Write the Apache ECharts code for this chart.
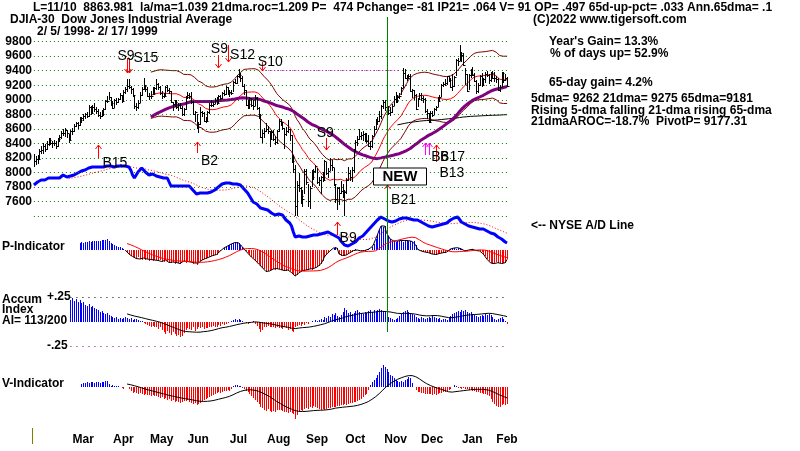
<!DOCTYPE html>
<html><head><meta charset="utf-8">
<script src="https://cdn.jsdelivr.net/npm/echarts@6/dist/echarts.min.js"></script>
<style>html,body{margin:0;padding:0;background:#fff}#c{width:800px;height:451px}</style>
</head><body><div id="c"></div>
<script>
// ---------- DATA (DJIA daily, 2/5/1998 - 2/17/1999) ----------
const startDate = '1998-02-05';
const holidays = ['1998-02-16','1998-04-10','1998-05-25','1998-07-03','1998-09-07','1998-11-26','1998-12-25','1999-01-01','1999-01-18','1999-02-15'];
const monthNames = ['Jan','Feb','Mar','Apr','May','Jun','Jul','Aug','Sep','Oct','Nov','Dec'];
const priceTicks = [7400,7600,7800,8000,8200,8400,8600,8800,9000,9200,9400,9600,9800];

const high = [
8250,8230,8240,8320,8360,8400,8390,8430,8470,8480,8440,8450,8440,8480,8510,8570,
8600,8610,8590,8530,8590,8610,8670,8700,8700,8760,8770,8800,8820,8830,8930,8910,8930,8960,8900,8880,8830,8860,
8890,9000,9050,9100,9040,8980,9010,9020,9030,9090,9070,9130,9170,9280,9290,9190,9160,9050,8960,8990,9110,
9170,9300,9200,9170,9090,9120,9170,9180,9280,9230,9190,9120,9090,9190,9200,9160,9120,8970,9000,8990,
8960,8960,8910,8890,9050,9100,9090,9100,8980,8850,8800,8690,8900,8850,8830,8760,8850,8960,9000,8970,9030,9040,
9060,9070,9100,9130,9190,9180,9140,9140,9260,9290,9340,9420,9370,9330,9220,9130,9000,9040,9030,8990,9060,9040,
8900,8800,8580,8610,8680,8640,8570,8590,8580,8500,8590,8730,8740,8700,8610,8620,8720,8600,8520,8240,8110,
7880,8000,7800,7760,8050,8050,7850,7820,8030,8050,8110,8070,7940,7950,8010,8170,8150,8060,8200,8170,8070,
7840,7800,7800,7880,7840,7760,7920,8080,8040,8080,8330,8450,8500,8600,8560,8570,8550,8540,8510,8430,8510,8640,
8730,8760,8850,8930,8990,8990,8940,8920,8900,8940,9050,9100,9060,9090,9180,9440,9420,9340,9360,9350,
9150,9130,9080,9030,9090,9090,9050,9020,8870,8820,8840,8850,8890,8920,9040,9070,9220,9240,9290,9330,9330,9300,
9350,9330,9560,9580,9750,9660,9640,9440,9360,9360,9420,9450,9370,9270,9230,9340,9370,9300,9380,
9400,9350,9380,9400,9380,9330,9300,9200,9380,9380,9360,9310];
const low = [
8080,8110,8120,8170,8250,8260,8280,8310,8360,8380,8340,8360,8330,8350,8420,8460,
8500,8490,8470,8400,8440,8520,8560,8620,8600,8640,8680,8710,8730,8750,8770,8790,8800,8830,8800,8760,8740,8760,
8780,8860,8950,8990,8920,8870,8890,8930,8950,9000,8950,8970,9080,9110,9150,9080,9040,8870,8850,8880,8960,
9050,9140,9100,9040,8990,9010,9060,9060,9140,9130,9070,9010,9020,9040,9100,9080,8950,8840,8900,8880,
8850,8870,8780,8780,8860,9010,9010,8940,8790,8700,8600,8540,8650,8770,8690,8680,8710,8800,8900,8900,8940,8930,
8950,9000,9010,9050,9070,9070,9040,9060,9100,9210,9220,9300,9250,9170,9060,8910,8880,8870,8900,8860,8920,8860,
8740,8470,8400,8480,8560,8530,8350,8460,8430,8380,8390,8560,8640,8580,8320,8500,8550,8440,8130,7990,7400,
7400,7740,7570,7530,7700,7830,7530,7500,7800,7900,7990,7840,7820,7700,7870,7900,7970,7920,8020,8020,7820,
7580,7480,7550,7700,7650,7400,7700,7890,7880,7870,7990,8290,8370,8450,8450,8440,8420,8410,8350,8310,8340,8500,
8590,8660,8700,8740,8880,8850,8820,8790,8780,8820,8920,8950,8960,9010,9060,9160,9280,9260,9290,9100,
9020,9000,8860,8900,8990,8980,8960,8820,8740,8680,8690,8760,8790,8840,8900,8970,9040,9180,9190,9200,9250,9160,
9120,9170,9320,9460,9530,9520,9460,9200,9100,9130,9300,9320,9240,9080,9090,9190,9180,9190,9230,
9310,9220,9250,9290,9250,9230,9120,9100,9170,9230,9260,9170];
const close = [
8154,8189,8180,8295,8314,8369,8323,8398,8451,8410,8413,8410,8370,8457,8490,8546,
8550,8584,8539,8444,8569,8567,8643,8675,8659,8719,8749,8775,8803,8776,8906,8816,8904,8872,8846,8796,8783,8799,
8868,8986,8983,9033,8956,8891,8994,8973,9006,9063,8977,9110,9141,9184,9176,9143,9064,8917,8898,8951,9063,
9147,9192,9147,9054,9055,9055,9091,9161,9211,9172,9096,9050,9054,9171,9132,9114,8963,8936,8970,8899,
8922,8891,8803,8870,9037,9069,9049,8971,8811,8834,8627,8665,8829,8813,8712,8711,8828,8935,8935,8944,8997,8952,
9048,9025,9091,9085,9175,9089,9105,9096,9245,9234,9328,9338,9295,9190,9128,8932,8938,9028,8934,8914,9026,8883,
8786,8487,8546,8577,8599,8574,8462,8552,8459,8425,8574,8714,8693,8611,8533,8566,8602,8523,8166,8052,7539,
7827,7783,7682,7640,8020,7865,7615,7795,7945,8025,8090,7873,7895,7933,7897,8154,8001,8028,8109,8080,7843,
7632,7784,7726,7742,7741,7732,7899,8001,7939,8036,8300,8416,8466,8506,8520,8534,8452,8432,8366,8371,8496,8592,
8706,8707,8783,8915,8975,8897,8864,8823,8829,8919,9011,8986,9042,9057,9159,9374,9302,9302,9333,9117,
9133,9064,8880,9016,9070,9027,9009,8841,8821,8695,8823,8790,8875,8903,8988,9044,9202,9217,9226,9320,9274,9181,
9184,9311,9544,9537,9643,9619,9474,9349,9120,9340,9355,9336,9264,9120,9203,9324,9200,9281,9359,
9345,9274,9366,9304,9304,9291,9133,9177,9363,9274,9298,9190];

// NYSE advance/decline line (relative units)
const adLine = [
65,67,68,70,70,71,70,71,72,71, 72,71,72,73,72,74,75,74,73,74,
74,74,75,76,77,78,79,80,80,81, 82,82,83,82,83,84,83,82,83,84,
84,85,84,84,83,83,84,83,84,83, 84,84,83,80,75,72,75,78,80,82,
80,78,76,75,76,76,75,74,74,73, 73,72,73,72,70,64,63,64,65,64,
63,64,63,64,66,64,62,60,58,56, 55,57,58,57,57,57,58,58,59,60,
62,63,64,66,67,67,67,67,66,66, 67,66,66,65,63,61,59,57,54,51,
48,47,46,44,42,42,41,40,40,39, 37,36,35,35,36,35,35,33,30,28,
27,24,18,13,13,14,13,13,12,13, 13,14,14,15,15,15,16,16,17,17,
17,18,17,16,15,14,15,12,9,7, 5,3,4,5,6,7,8,10,12,13,
14,16,18,20,22,24,26,27,30,32, 33,32,31,30,29,28,28,28,29,30,
31,31,32,32,32,31,31,30,30,31, 30,29,28,27,26,25,24,23,23,24,
24,24,25,26,26,27,27,28,30,31, 32,33,33,31,28,27,26,25,24,24,
23,23,22,22,21,21,21,20,19,18, 17,17,16,14,13,12,11,10,8,7];

// P-Indicator (starts at trading day 25)
const pStart = 25;
const pInd = [
70,80,75,85,80, 90,85,95,90,88, 95,92,100,98,105, 110,95,70,60,55, 45,35,30,20,10,
0,-20,-40,-55,-65, -80,-85,-70,-90,-95, -80,-100,-90,-105,-95, -110,-100,-95,-105,-100,
-115,-120,-100,-110,-125, -130,-120,-140,-125,-130, -135,-120,-110,-125,-115, -110,-120,-140,-130,-145,
-130,-110,-100,-90,-85, -80,-70,-60,-55,-50, -45,-30,-10,5,20, 35,40,55,60,70,
75,80,70,55,35, 10,-10,-30,-50,-70, -80,-100,-120,-140,-160, -175,-190,-215,-205,-210,
-195,-190,-200,-185,-190, -195,-200,-205,-210,-200, -210,-225,-240,-260,-250, -230,-215,-205,-210,-200,
-195,-190,-200,-185,-175, -170,-160,-140,-110,-70, -45,-30,-10,5,20, 33,20,-40,-60,-55,
-60,-50,-40,-27,-15, -5,7,0,-5,-10, -10,-5,0,7,5, 30,60,107,150,200,
240,235,240,173,140, 110,95,90,85,90, 90,95,85,95,100, 95,90,85,90,50,
7,0,-10,-15,-20, -25,-27,-35,-40,-43, -45,-40,-35,-30,-27, -25,-20,-5,10,13,
20,15,23,25,10, 0,-10,-5,0,5, 7,0,-5,-10,-10, -20,-40,-60,-93,-110,
-130,-143,-135,-120,-127, -127,-135,-125,-127,-93];

// Accumulation Index, in hundredths (starts at trading day 20)
const aiStart = 20;
const accumIdx = [
22,24,21,23,20, 22,19,20,17,16, 18,15,16,14,13, 12,10,11,9,8,
9,7,6,5,4, 5,3,4,3,4, 5,4,3,4,2, 3,3,2,1,1,
-1,-2,-3,-4,-5, -4,-6,-5,-8,-6, -9,-11,-13,-10,-12, -14,-11,-13,-15,-14,
-16,-15,-12,-9,-7, -8,-9,-6,-10,-8, -6,-7,-5,-8,-7, -7,-5,-6,-4,-5,
-5,-3,-4,-2,-3, -2,-1,0,1,2, 3,2,3,2,1, 0,-1,-2,-1,0,
1,-2,-4,-8,-11, -9,-6,-5,-4,-5, -6,-5,-7,-6,-7, -7,-8,-6,-7,-9,
-8,-10,-11,-5,-4, -3,-4,-2,-3,-1, -2,0,1,0,2, 1,2,3,2,5,
4,6,5,8,7, 9,6,5,7,10, 14,12,9,10,8, 9,11,12,10,9,
8,10,9,11,12, 10,12,11,12,13, 12,11,10,8,5, 4,3,2,3,4,
6,8,10,11,12, 10,9,8,7,5, 4,3,5,4,3, 4,5,4,6,5,
4,3,4,2,3, 3,2,4,6,8, 9,10,11,10,12, 11,12,10,9,10,
8,7,6,5,6, 7,6,8,7,8, 7,5,3,2,3, 4,5,3,1,-2];

// V-Indicator (starts at trading day 26)
const vStart = 26;
const vInd = [
30,40,35,45,40, 50,45,40,50,45, 40,50,45,55,60, 30,10,15,5,10, 5,0,-10,-20,-5,
0,-20,-40,-60,-50, -65,-70,-60,-75,-80, -70,-85,-80,-90,-85, -95,-90,-100,-110,-105,
-120,-115,-130,-125,-140, -135,-150,-145,-155,-160, -150,-145,-140,-135,-150, -160,-170,-165,-180,-170,
-160,-140,-130,-120,-110, -100,-90,-80,-70,-60, -55,-60,-50,-45,-40, -35,-40,-20,10,20,
15,10,5,-10,-20, -40,-50,-70,-90,-110, -130,-150,-170,-200,-210, -230,-240,-220,-245,-250,
-240,-250,-230,-235,-230, -240,-250,-255,-260,-250, -265,-270,-320,-280,-250, -230,-240,-225,-210,-220,
-200,-210,-195,-200,-210, -220,-230,-225,-230,-220, -210,-215,-200,-205,-200, -190,-195,-185,-180,-175,
-180,-170,-165,-160,-150, -150,-140,-130,-120,-100, -80,-70,-30,20,50, 70,90,120,150,190,
220,200,180,150,120, 110,90,70,60,50, 60,50,70,80,100, 90,40,0,-30,-50,
-55,-60,-65,-70,-70, -75,-70,-80,-75,-80, -70,-65,-60,-55,-50, -40,-30,-20,-5,20,
10,-10,-15,-20,-15, -20,-25,-30,-35,-40, -45,-50,-55,-60,-65, -70,-75,-80,-90,-120,
-150,-170,-190,-200,-200, -185,-170,-180,-170];

// Buy / sell signals: [label, trading day, price level at arrow tip, direction, colour]
const signals = [
 ['S9',51,9367,'down','#ff0000'], ['S15',52,9367,'down','#ff0000'],
 ['S9',101,9436,'down','#ff0000'], ['S12',106,9518,'down','#ff0000'],
 ['S10',125,9400,'down','#ff0000'], ['B15',35,8379,'up','#ff0000'],
 ['B2',89,8420,'up','#ff0000'], ['S9',160,8310,'down','#ff0000'],
 ['B9',166,7322,'up','#ff0000'], ['B21',193,7830,'up','#ff0000'],
 ['B6',214,8406,'up','#ff00ff'], ['B17',216,8406,'up','#ff00ff'],
 ['B13',220,8379,'up','#ff0000']];
const resistance = {from:125, to:200, level:9402};
const markerDay = 193; // 11/10

const headerLine = 'L=11/10  8863.981  la/ma=1.039 21dma.roc=1.209 P=  474 Pchange= -81 IP21= .064 V= 91 OP= .497 65d-up-pct= .033 Ann.65dma= .1';

// ---------- styling constants (not data) ----------
const sigLen = [15,15,13,17,9,13,11,12,13,12,12,12,17];
const sigLabelOff = [[-1,-17],[17,-15],[1,-19],[15,-7],[8,-8],[17,18],[13,19],[-1,-17],[11,16],[17,15],[15,14],[24,14],[16,28]];
const FONT = '"Liberation Sans", Arial, sans-serif';

// ---------- derived ----------
const days = [];
(function(){
  let d = new Date(startDate + 'T00:00:00Z');
  while (days.length < close.length) {
    const wd = d.getUTCDay(); const s = d.toISOString().slice(0,10);
    if (wd !== 0 && wd !== 6 && holidays.indexOf(s) < 0) days.push(s);
    d = new Date(d.getTime() + 86400000);
  }
})();
const monthStart = {};
for (let i = 1; i < days.length; i++) if (days[i].slice(5,7) !== days[i-1].slice(5,7)) monthStart[i] = monthNames[+days[i].slice(5,7) - 1];

const pad = (arr, start) => Array(start).fill(null).concat(arr);
const P = pad(pInd, pStart), AI = pad(accumIdx, aiStart), V = pad(vInd, vStart);
function sma(src, n, first) {
  return src.map((_, i) => {
    if (i < first) return null;
    let s = 0, c = 0;
    for (let k = i - n + 1; k <= i; k++) if (k >= 0 && src[k] != null) { s += src[k]; c++; }
    return c ? +(s / c).toFixed(2) : null;
  });
}
const ma21 = sma(close, 21, 64), ma65 = sma(close, 65, 64), ma200 = sma(close, 200, 199);
const upper = ma21.map(v => v == null ? null : v * 1.035);
const lower = ma21.map(v => v == null ? null : v * 0.965);
const adMa = sma(adLine, 20, 19);
const pLine = P.map((v, i) => i < 50 ? null : v);
const pMa = sma(P, 21, 51), aiMa = sma(AI, 21, 51), vMa = sma(V, 21, 51);

// ---------- chart ----------
const chart = echarts.init(document.getElementById('c'), null, {renderer: 'canvas'});
const G = {left: 33, width: 475};
const grids = [
  Object.assign({top: 41.5, height: 174.8}, G),
  Object.assign({top: 150, height: 100}, G),
  Object.assign({top: 220, height: 60}, G),
  Object.assign({top: 297.3, height: 48.7}, G),
  Object.assign({top: 346.5, height: 80}, G)
];
const xAxes = grids.map((g, k) => ({
  type: 'category', gridIndex: k, data: days, boundaryGap: true,
  show: k === 4, axisLine: {show: false}, axisTick: {show: false}, splitLine: {show: false},
  axisLabel: k === 4 ? {
    interval: (i) => monthStart[i] !== undefined,
    formatter: (v, i) => monthStart[i] || '',
    margin: 7, color: '#000', fontWeight: 'bold', fontSize: 12, fontFamily: FONT,
    padding: [0, 0, 0, 40]
  } : {show: false}
}));
const hiddenY = (k, min, max) => ({type: 'value', gridIndex: k, min, max, show: false, splitLine: {show: false}});
const yAxes = [
  {type: 'value', gridIndex: 0, min: 7400, max: 9800, interval: 200,
   axisLine: {show: false}, axisTick: {show: false},
   axisLabel: {formatter: v => v === 7400 ? '' : String(v), color: '#000', fontWeight: 'bold', fontSize: 12, fontFamily: FONT, margin: 1},
   splitLine: {show: false}},
  hiddenY(1, 0, 100), hiddenY(2, -300, 300), hiddenY(3, -25, 25), hiddenY(4, -400, 400)
];

function priceBar(params, api) {
  const i = api.value(0);
  const h = api.coord([i, api.value(1)]), l = api.coord([i, api.value(2)]), c = api.coord([i, api.value(3)]);
  const x = Math.round(h[0]) + 0.5;
  return {type: 'group', children: [
    {type: 'line', shape: {x1: x, y1: Math.round(h[1]), x2: x, y2: Math.round(l[1])}, style: {stroke: '#000', lineWidth: 1}},
    {type: 'line', shape: {x1: x, y1: Math.round(c[1]) + 0.5, x2: x + 2, y2: Math.round(c[1]) + 0.5}, style: {stroke: '#000', lineWidth: 1}}
  ]};
}
function indBar(params, api) {
  const i = api.value(0), v = api.value(1);
  if (v == null || isNaN(v)) return null;
  const p0 = api.coord([i, 0]), p1 = api.coord([i, v]);
  const x = Math.round(p0[0]) + 0.5;
  return {type: 'line', shape: {x1: x, y1: Math.round(p0[1]), x2: x, y2: Math.round(p1[1])},
    style: {stroke: v >= 0 ? '#0000ff' : '#ff0000', lineWidth: 1}};
}
function sigItem(params, api) {
  const k = params.dataIndex, s = signals[k];
  const p = api.coord([api.value(0), api.value(1)]);
  const x = Math.round(p[0]) + 0.5, y = Math.round(p[1]);
  const dir = s[3] === 'down' ? 1 : -1, len = sigLen[k], col = s[4];
  const off = sigLabelOff[k];
  return {type: 'group', children: [
    {type: 'line', shape: {x1: x, y1: y, x2: x, y2: y - dir * len}, style: {stroke: col, lineWidth: 1}},
    {type: 'polyline', shape: {points: [[x - 3, y - dir * 4], [x, y], [x + 3, y - dir * 4]]}, style: {stroke: col, fill: null, lineWidth: 1}},
    {type: 'text', x: p[0] + off[0], y: p[1] + off[1], z2: 10,
     style: {text: s[0], font: '14px ' + FONT, fill: '#000', textAlign: 'center', textVerticalAlign: 'middle'}}
  ]};
}
const line = (data, xi, color, width, extra) => Object.assign({
  type: 'line', xAxisIndex: xi, yAxisIndex: xi, data, showSymbol: false, symbol: 'none',
  lineStyle: {color, width}, itemStyle: {color}, silent: true, connectNulls: false
}, extra || {});
const toPairs = arr => arr.map((v, i) => [i, v]).filter(d => d[1] != null);

const gridLines = priceTicks.map(t => [{coord: [days[0], t]}, {coord: [days[days.length - 1], t]}]);

const series = [
  {type: 'line', xAxisIndex: 0, yAxisIndex: 0, data: [], silent: true, z: 1,
   markLine: {silent: true, symbol: 'none', label: {show: false}, animation: false,
     lineStyle: {color: '#008000', width: 1, type: [1, 3]}, data: gridLines}},
  line(ma21, 0, '#ff0000', 1, {z: 3}),
  line(upper, 0, '#800000', 1, {z: 3}),
  line(lower, 0, '#800000', 1, {z: 3}),
  line(ma200, 0, '#000000', 1, {z: 3}),
  line(ma65, 0, '#800080', 3, {z: 4,
    markLine: {silent: true, symbol: 'none', label: {show: false},
      lineStyle: {color: '#ff00ff', width: 1, type: [1, 2]},
      data: [[{coord: [days[resistance.from], resistance.level]}, {coord: [days[resistance.to], resistance.level]}]]}}),
  {type: 'custom', xAxisIndex: 0, yAxisIndex: 0, renderItem: priceBar, z: 5, silent: true,
   encode: {x: 0, y: [1, 2, 3]}, data: close.map((c, i) => [i, high[i], low[i], c])},
  line(adMa, 1, '#ff0000', 1, {z: 2, lineStyle: {color: '#ff0000', width: 1, type: [1, 2]}}),
  line(adLine, 1, '#0000ff', 3, {z: 3}),
  {type: 'custom', xAxisIndex: 2, yAxisIndex: 2, renderItem: indBar, silent: true, data: toPairs(P), encode: {x: 0, y: 1}},
  line(pLine, 2, '#000000', 1, {z: 3}),
  line(pMa, 2, '#ff0000', 1, {z: 4}),
  {type: 'custom', xAxisIndex: 3, yAxisIndex: 3, renderItem: indBar, silent: true, data: toPairs(AI), encode: {x: 0, y: 1},
   markLine: {silent: true, symbol: 'none', label: {show: false},
     data: [
       [{coord: [days[20], 25], lineStyle: {color: '#000000', type: [1, 5], width: 1}}, {coord: [days[259], 25]}],
       [{coord: [days[20], -25], lineStyle: {color: '#800080', type: [1, 5], width: 1}}, {coord: [days[259], -25]}]
     ]}},
  line(aiMa, 3, '#000000', 1, {z: 3}),
  {type: 'custom', xAxisIndex: 4, yAxisIndex: 4, renderItem: indBar, silent: true, data: toPairs(V), encode: {x: 0, y: 1}},
  line(vMa, 4, '#000000', 1, {z: 3}),
  {type: 'custom', xAxisIndex: 0, yAxisIndex: 0, renderItem: sigItem, clip: false, z: 8, silent: true,
   data: signals.map(s => [s[1], s[2]]), encode: {x: 0, y: 1}}
];

chart.setOption({animation: false, backgroundColor: '#ffffff', grid: grids, xAxis: xAxes, yAxis: yAxes, series});

const T = (text, x, y, extra) => ({type: 'text', x, y, z: 50,
  style: Object.assign({text, fill: '#000', font: 'bold 12px ' + FONT, textAlign: 'left', textVerticalAlign: 'middle'}, extra || {})});
const gx = Math.round(chart.convertToPixel({gridIndex: 0}, [markerDay, 9000])[0]) + 0.5;
chart.setOption({graphic: [
  {type: 'line', z: 40, shape: {x1: gx, y1: 17, x2: gx, y2: 332}, style: {stroke: '#008000', lineWidth: 1}},
  {type: 'rect', z: 60, shape: {x: gx - 14, y: 168, width: 53, height: 17}, style: {fill: '#fff', stroke: '#000', lineWidth: 1}},
  {type: 'text', z: 61, x: gx + 12.5, y: 177, style: {text: 'NEW', font: 'bold 15px ' + FONT, fill: '#000', textAlign: 'center', textVerticalAlign: 'middle'}},
  {type: 'line', z: 40, shape: {x1: 32.5, y1: 428, x2: 32.5, y2: 444}, style: {stroke: '#808000', lineWidth: 1}},
  T(headerLine, 33, 8),
  T('DJIA-30  Dow Jones Industrial Average', 10, 20),
  T('(C)2022 www.tigersoft.com', 533, 20),
  T('2/ 5/ 1998- 2/ 17/ 1999', 37, 32),
  T("Year's Gain= 13.3%", 549, 42),
  T('% of days up= 52.9%', 550, 54),
  T('65-day gain= 4.2%', 549, 83),
  T('5dma= 9262 21dma= 9275 65dma=9181', 531, 99),
  T('Rising 5-dma falling 21-dma rising 65-dma', 531, 111),
  T('21dmaAROC=-18.7%  PivotP= 9177.31', 531, 122),
  T('<-- NYSE A/D Line', 531, 226),
  T('P-Indicator', 2, 247),
  T('Accum', 2, 299.5), T('Index', 2, 310), T('AI= 113/200', 2, 321),
  T('+.25', 47, 297), T('-.25', 47, 346),
  T('V-Indicator', 2, 384)
]});
</script></body></html>
